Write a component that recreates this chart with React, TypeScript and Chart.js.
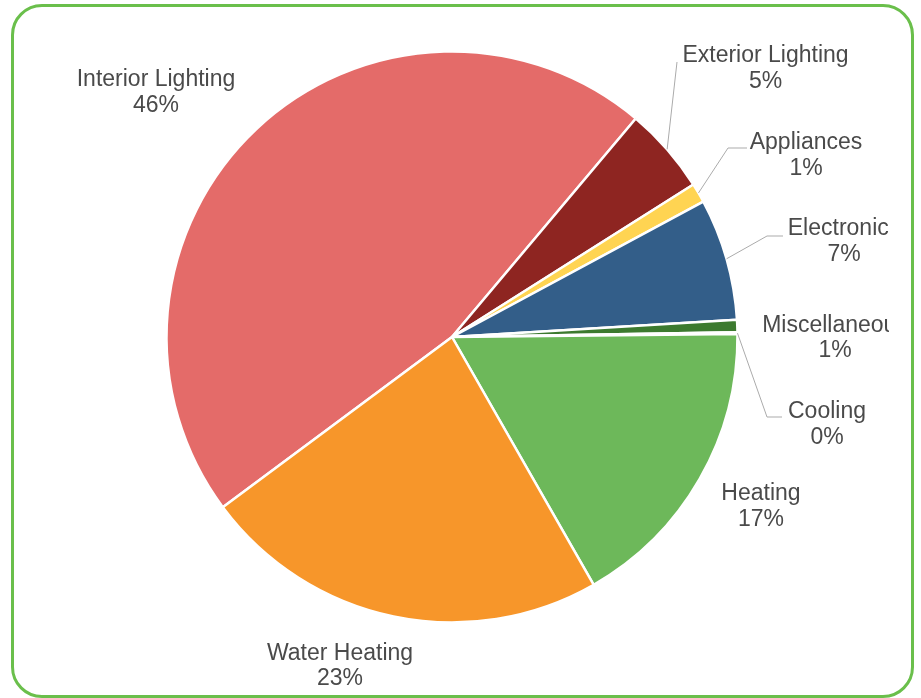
import React, { useEffect, useRef } from "react";
import { Chart, registerables } from "chart.js";

Chart.register(...registerables);

// ---- data ----
const categories = [
  "Interior Lighting",
  "Exterior Lighting",
  "Appliances",
  "Electronics",
  "Miscellaneous",
  "Cooling",
  "Heating",
  "Water Heating",
];
const shares = [46.3, 4.9, 1.1, 6.9, 0.7, 0.1, 16.9, 23.1];
const sliceColors = [
  "#E46B69",
  "#8E2521",
  "#FFD452",
  "#335E89",
  "#3C7A2F",
  "#9FC5E8",
  "#6DB85A",
  "#F7962A",
];

// ---- label layout (relative to pie centre, px) ----
// cx: text centre x, by: first-line baseline; leader: polyline points after the arc edge
const labelLayout: { cx: number; by: number; leader: number[][] | null }[] = [
  { cx: -296, by: -251, leader: null },
  { cx: 313.5, by: -275, leader: [[225, -275]] },
  { cx: 354, by: -188, leader: [[276, -189], [295, -189]] },
  { cx: 392, by: -102, leader: [[315, -101], [331, -101]] },
  { cx: 383, by: -5.5, leader: null },
  { cx: 375, by: 81, leader: [[315, 80], [330, 80]] },
  { cx: 309, by: 163, leader: null },
  { cx: -112, by: 322.5, leader: null },
];

const FONT = '23px "Liberation Sans", Arial, sans-serif';
const LINE_GAP = 25.5;

const labelPlugin = {
  id: "pieLabels",
  afterDraw(chart: any) {
    const ctx = chart.ctx;
    const meta = chart.getDatasetMeta(0);
    const data = chart.data.datasets[0].data as number[];
    const total = data.reduce((a: number, b: number) => a + b, 0);
    meta.data.forEach((arc: any, i: number) => {
      const p = arc.getProps(["x", "y", "startAngle", "endAngle", "outerRadius"], true);
      const lay = labelLayout[i];
      if (!lay) return;
      const cx = p.x;
      const cy = p.y;
      if (lay.leader) {
        const mid = (p.startAngle + p.endAngle) / 2;
        const r = p.outerRadius;
        ctx.save();
        ctx.strokeStyle = "#ababab";
        ctx.lineWidth = 1;
        ctx.beginPath();
        ctx.moveTo(cx + Math.cos(mid) * r, cy + Math.sin(mid) * r);
        lay.leader.forEach((pt) => ctx.lineTo(cx + pt[0], cy + pt[1]));
        ctx.stroke();
        ctx.restore();
      }
      ctx.save();
      ctx.beginPath();
      ctx.rect(0, 0, cx + 437, chart.height);
      ctx.clip();
      ctx.font = FONT;
      ctx.fillStyle = "#4a4a4a";
      ctx.textAlign = "center";
      ctx.textBaseline = "alphabetic";
      const pct = Math.round((data[i] / total) * 100) + "%";
      ctx.fillText(chart.data.labels[i], cx + lay.cx, cy + lay.by);
      ctx.fillText(pct, cx + lay.cx, cy + lay.by + LINE_GAP);
      ctx.restore();
    });
  },
};

export default function App() {
  const ref = useRef<HTMLCanvasElement | null>(null);
  useEffect(() => {
    if (!ref.current) return;
    const chart = new Chart(ref.current, {
      type: "pie",
      data: {
        labels: categories,
        datasets: [
          {
            data: shares,
            backgroundColor: sliceColors,
            borderColor: "#ffffff",
            borderWidth: 2.5,
          },
        ],
      },
      options: {
        responsive: false,
        animation: false,
        rotation: 233.4,
        radius: 285.5,
        layout: { padding: { left: 0, right: 17, top: 0, bottom: 24 } },
        plugins: {
          legend: { display: false },
          tooltip: { enabled: false },
        },
      },
      plugins: [labelPlugin],
    });
    return () => chart.destroy();
  }, []);

  return (
    <div style={{ position: "fixed", left: 0, top: 0, width: 921, height: 698, background: "#fff" }}>
      <canvas ref={ref} width={921} height={698} style={{ position: "absolute", left: 0, top: 0 }} />
      <div
        style={{
          position: "absolute",
          left: 11,
          top: 4,
          width: 903,
          height: 694,
          boxSizing: "border-box",
          border: "3px solid #6ABF4B",
          borderRadius: 31,
          pointerEvents: "none",
        }}
      />
    </div>
  );
}
